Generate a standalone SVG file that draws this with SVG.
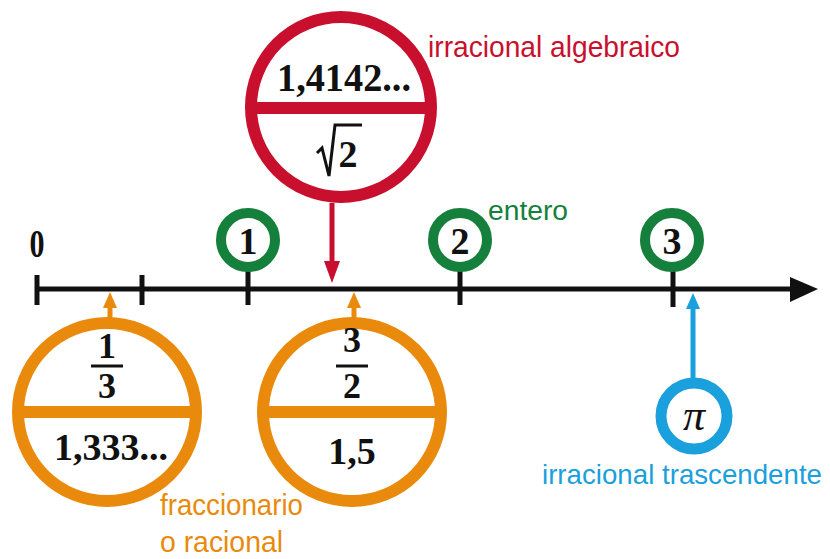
<svg xmlns="http://www.w3.org/2000/svg" width="830" height="559" viewBox="0 0 830 559">
<style>
.num{font-family:"Liberation Serif","DejaVu Serif",serif;font-weight:bold;fill:#111;text-anchor:middle}
.lbl{font-family:"Liberation Sans","Arial",sans-serif}
.red{stroke:#c8102e;fill:#fff}
.grn{stroke:#14803c;fill:#fff}
.org{stroke:#e98a0c;fill:#fff}
.blu{stroke:#1aa0dc;fill:#fff}
.tick{stroke:#111;stroke-width:5}
</style>
<defs>
<marker id="ahR" markerWidth="22" markerHeight="16" refX="2" refY="8" orient="auto" markerUnits="userSpaceOnUse" viewBox="0 0 22 16"><path d="M0,0L22,8L0,16z" fill="#c8102e"/></marker>
<marker id="ahO" markerWidth="16" markerHeight="14" refX="2" refY="7" orient="auto" markerUnits="userSpaceOnUse" viewBox="0 0 16 14"><path d="M0,0L16,7L0,14z" fill="#e98a0c"/></marker>
<marker id="ahB" markerWidth="16" markerHeight="14" refX="2" refY="7" orient="auto" markerUnits="userSpaceOnUse" viewBox="0 0 16 14"><path d="M0,0L16,7L0,14z" fill="#1aa0dc"/></marker>
</defs>
<rect width="830" height="559" fill="#fff"/>
<g id="axis">
<line x1="37" y1="289" x2="795" y2="289" stroke="#111" stroke-width="5"/>
<path d="M790,277L818,289L790,302z" fill="#111"/>
<line class="tick" x1="37" y1="275" x2="37" y2="305"/>
<line class="tick" x1="142" y1="275" x2="142" y2="305"/>
<line class="tick" x1="248" y1="265" x2="248" y2="305"/>
<line class="tick" x1="460" y1="265" x2="460" y2="305"/>
<line class="tick" x1="673" y1="265" x2="673" y2="307"/>
<text class="num" x="37" y="257" font-size="40" transform="translate(37 0) scale(0.75 1) translate(-37 0)">0</text>
</g>
<g id="connectors">
<line x1="332" y1="203" x2="332" y2="263" stroke="#c8102e" stroke-width="5" marker-end="url(#ahR)"/>
<line x1="110" y1="322" x2="110" y2="306" stroke="#e98a0c" stroke-width="5" marker-end="url(#ahO)"/>
<line x1="354" y1="322" x2="354" y2="306" stroke="#e98a0c" stroke-width="5" marker-end="url(#ahO)"/>
<line x1="693" y1="380" x2="693" y2="307" stroke="#1aa0dc" stroke-width="5" marker-end="url(#ahB)"/>
</g>
<g id="n1"><circle class="grn" cx="248" cy="240" r="27" stroke-width="10"/><text class="num" x="248" y="254" font-size="38">1</text></g>
<g id="n2"><circle class="grn" cx="460" cy="240" r="27" stroke-width="10"/><text class="num" x="460" y="254" font-size="38">2</text></g>
<g id="n3"><circle class="grn" cx="672" cy="240" r="27" stroke-width="10"/><text class="num" x="672" y="254" font-size="38">3</text></g>
<text id="entero" class="lbl" x="488" y="220" font-size="27" fill="#14803c" textLength="80" lengthAdjust="spacingAndGlyphs">entero</text>
<g id="sqrt2">
<circle class="red" cx="341" cy="107" r="90" stroke-width="12"/>
<line x1="250" y1="108" x2="432" y2="108" stroke="#c8102e" stroke-width="12"/>
<text class="num" x="344" y="91" font-size="40" textLength="134" lengthAdjust="spacingAndGlyphs">1,4142...</text>
<path d="M317,153L322,148L329,176L335,125L362,125" fill="none" stroke="#111" stroke-width="3"/>
<text class="num" x="348" y="167" font-size="38">2</text>
</g>
<text id="alg" class="lbl" x="428" y="57" font-size="30" fill="#c8102e" textLength="252" lengthAdjust="spacingAndGlyphs">irracional algebraico</text>
<g id="third">
<circle class="org" cx="107" cy="412" r="89" stroke-width="12"/>
<line x1="18" y1="412" x2="196" y2="412" stroke="#e98a0c" stroke-width="12"/>
<text class="num" x="107" y="358" font-size="36">1</text>
<line x1="91" y1="366" x2="123" y2="366" stroke="#111" stroke-width="3"/>
<text class="num" x="107" y="398" font-size="36">3</text>
<text class="num" x="111" y="460" font-size="38" textLength="114" lengthAdjust="spacingAndGlyphs">1,333...</text>
</g>
<g id="half">
<circle class="org" cx="352" cy="412" r="89" stroke-width="12"/>
<line x1="263" y1="412" x2="441" y2="412" stroke="#e98a0c" stroke-width="12"/>
<text class="num" x="352" y="352" font-size="36">3</text>
<line x1="336" y1="366" x2="368" y2="366" stroke="#111" stroke-width="3"/>
<text class="num" x="352" y="398" font-size="36">2</text>
<text class="num" x="352" y="464" font-size="38">1,5</text>
</g>
<g id="frac">
<text class="lbl" x="160" y="515" font-size="30" fill="#e98a0c" textLength="143" lengthAdjust="spacingAndGlyphs">fraccionario</text>
<text class="lbl" x="160" y="552" font-size="30" fill="#e98a0c" textLength="123" lengthAdjust="spacingAndGlyphs">o racional</text>
</g>
<g id="pi">
<circle class="blu" cx="694" cy="416" r="33" stroke-width="11"/>
<text x="694" y="430" font-size="44" font-style="italic" text-anchor="middle" font-family="'Liberation Serif','DejaVu Serif',serif" fill="#111">π</text>
</g>
<text id="trasc" class="lbl" x="542" y="484" font-size="28" fill="#1aa0dc" textLength="280" lengthAdjust="spacingAndGlyphs">irracional trascendente</text>
</svg>
